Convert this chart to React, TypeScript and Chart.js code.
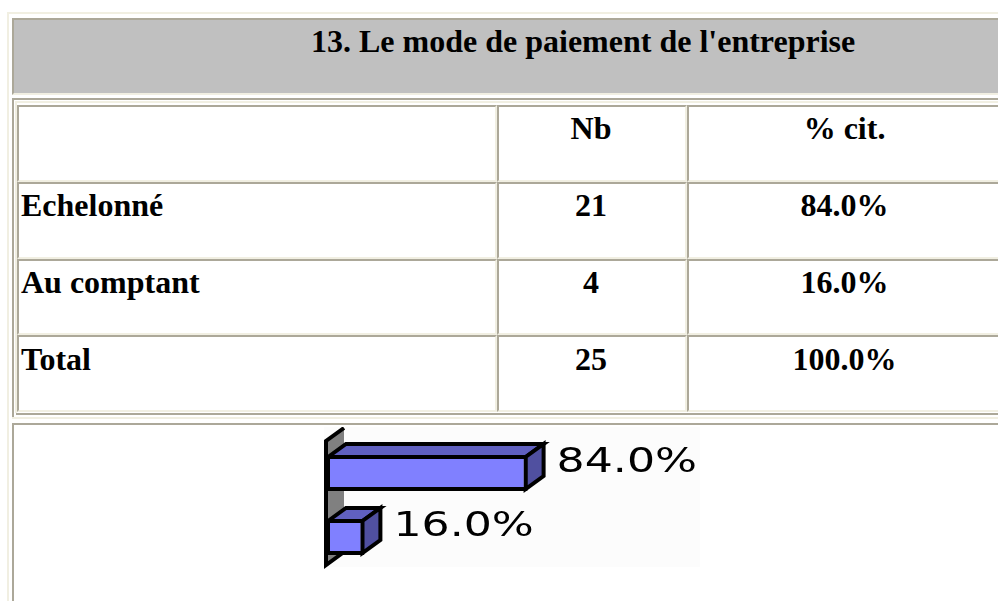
import React, { useEffect, useRef } from "react";
import { Chart, registerables } from "chart.js";

Chart.register(...registerables);

const title = "13. Le mode de paiement de l'entreprise";
const headers = ["", "Nb", "% cit."];
const categories = ["Echelonné", "Au comptant"];
const counts = [21, 4];
const percents = [84.0, 16.0];
const totalLabel = "Total";
const totalCount = 25;
const totalPercent = 100.0;

const DARK = "#aca899";
const LIGHT = "#f1efe2";
const FONT = "'Liberation Serif', 'Times New Roman', serif";

const DX = 18;
const DY = 13;

const bar3d = {
  id: "bar3d",
  beforeDraw(chart: any) {
    const ctx = chart.ctx;
    ctx.save();
    ctx.fillStyle = "#fcfcfc";
    ctx.fillRect(0, 0, 376, 140);
    ctx.restore();
  },
  beforeDatasetsDraw(chart: any) {
    const ctx = chart.ctx;
    const area = chart.chartArea;
    const W = area.left;
    const wt = area.top;
    const wb = area.bottom - 4;
    ctx.save();
    // wall
    ctx.beginPath();
    ctx.moveTo(W, wt);
    ctx.lineTo(W + DX, wt - DY);
    ctx.lineTo(W + DX, wb - DY);
    ctx.lineTo(W, wb);
    ctx.closePath();
    ctx.fillStyle = "#808080";
    ctx.fill();
    ctx.strokeStyle = "#000";
    ctx.lineWidth = 4;
    ctx.beginPath();
    ctx.moveTo(W + DX, wt - DY);
    ctx.lineTo(W, wt);
    ctx.lineTo(W, wb);
    ctx.lineTo(W + DX, wb - DY);
    ctx.stroke();
    // 3D faces of bars
    const meta = chart.getDatasetMeta(0);
    meta.data.forEach((el: any) => {
      const p = el.getProps(["x", "y", "base", "height"], true);
      const L = p.base + 2;
      const R = p.x - 2;
      const T = p.y - p.height / 2 + 2;
      const B = p.y + p.height / 2 - 2;
      ctx.lineJoin = "miter";
      ctx.lineWidth = 4;
      ctx.strokeStyle = "#000";
      ctx.beginPath();
      ctx.moveTo(L, T);
      ctx.lineTo(L + DX, T - DY);
      ctx.lineTo(R + DX, T - DY);
      ctx.lineTo(R, T);
      ctx.closePath();
      ctx.fillStyle = "#6060c0";
      ctx.fill();
      ctx.stroke();
      ctx.beginPath();
      ctx.moveTo(R, T);
      ctx.lineTo(R + DX, T - DY);
      ctx.lineTo(R + DX, B - DY);
      ctx.lineTo(R, B);
      ctx.closePath();
      ctx.fillStyle = "#5050a0";
      ctx.fill();
      ctx.stroke();
    });
    ctx.restore();
  },
  afterDatasetsDraw(chart: any) {
    const ctx = chart.ctx;
    const meta = chart.getDatasetMeta(0);
    ctx.save();
    ctx.fillStyle = "#000";
    ctx.font = "34px 'DejaVu Sans'";
    ctx.textBaseline = "alphabetic";
    ctx.textAlign = "left";
    meta.data.forEach((el: any, i: number) => {
      const p = el.getProps(["x", "y"], true);
      const txt = percents[i].toFixed(1) + "%";
      ctx.save();
      ctx.translate(p.x + DX + 11, p.y - 1);
      ctx.scale(1.3, 1);
      ctx.fillText(txt, 0, 0);
      ctx.restore();
    });
    ctx.restore();
  },
};

function BarChart() {
  const ref = useRef<HTMLCanvasElement>(null);
  useEffect(() => {
    if (!ref.current) return;
    const chart = new Chart(ref.current, {
      type: "bar",
      data: {
        labels: categories,
        datasets: [
          {
            data: percents,
            backgroundColor: "#8080ff",
            borderColor: "#000000",
            borderWidth: 4,
            borderSkipped: false,
            categoryPercentage: 1,
            barPercentage: 0.5625,
          },
        ],
      },
      options: {
        indexAxis: "y",
        responsive: false,
        animation: false,
        devicePixelRatio: 1,
        layout: { padding: { left: 2, right: 134, top: 14, bottom: 8 } },
        scales: {
          x: { display: false, min: 0, max: 100 },
          y: { display: false },
        },
        plugins: {
          legend: { display: false },
          tooltip: { enabled: false },
          title: { display: false },
        },
      },
      plugins: [bar3d],
    });
    return () => chart.destroy();
  }, []);
  return (
    <canvas
      ref={ref}
      width={376}
      height={150}
      style={{ position: "absolute", left: 324, top: 427, width: 376, height: 150 }}
    />
  );
}

function Box(props: { x: number; y: number; w: number; h: number; c: string }) {
  return (
    <div
      style={{
        position: "absolute",
        left: props.x,
        top: props.y,
        width: props.w,
        height: props.h,
        background: props.c,
      }}
    />
  );
}

const colX = [17, 497, 687];
const colW = [480, 190, 330];
const rowY = [105, 182, 259, 335];
const rowH = [77, 77, 76, 77];

export default function App() {
  const rows: string[][] = [
    headers,
    ...categories.map((c, i) => [c, String(counts[i]), percents[i].toFixed(1) + "%"]),
    [totalLabel, String(totalCount), totalPercent.toFixed(1) + "%"],
  ];
  const textStyle = (left: number, top: number, width: number | undefined, center: boolean): React.CSSProperties => ({
    position: "absolute",
    left,
    top,
    width,
    textAlign: center ? "center" : "left",
    font: `bold 32px ${FONT}`,
    lineHeight: "32px",
    color: "#000",
    whiteSpace: "nowrap",
  });
  return (
    <div
      style={{
        position: "fixed",
        left: 0,
        top: 0,
        width: 998,
        height: 601,
        overflow: "hidden",
        background: "#fff",
      }}
    >
      {/* outer light frame */}
      <Box x={7} y={12} w={2} h={589} c={LIGHT} />
      <Box x={7} y={12} w={991} h={2} c={LIGHT} />
      {/* header */}
      <div
        style={{
          position: "absolute",
          left: 12,
          top: 18,
          width: 1000,
          height: 77,
          boxSizing: "border-box",
          background: "#c0c0c0",
          borderTop: `2px solid ${DARK}`,
          borderLeft: `2px solid ${DARK}`,
          borderBottom: `2px solid ${LIGHT}`,
        }}
      />
      <div style={textStyle(311, 25, undefined, false)}>{title}</div>
      {/* table frame */}
      <Box x={12} y={98} w={986} h={2} c={DARK} />
      <Box x={12} y={98} w={2} h={320} c={DARK} />
      <Box x={15} y={101} w={983} h={2} c={LIGHT} />
      <Box x={15} y={101} w={2} h={312} c={LIGHT} />
      <Box x={16} y={413} w={982} h={2} c={DARK} />
      <Box x={12} y={417} w={986} h={2} c={LIGHT} />
      {/* cells */}
      {rows.map((r, ri) =>
        r.map((_, ci) => (
          <div
            key={`c${ri}-${ci}`}
            style={{
              position: "absolute",
              left: colX[ci],
              top: rowY[ri],
              width: colW[ci],
              height: rowH[ri],
              boxSizing: "border-box",
              borderTop: `2px solid ${DARK}`,
              borderLeft: `2px solid ${DARK}`,
              borderBottom: `2px solid ${LIGHT}`,
              borderRight: `2px solid ${LIGHT}`,
            }}
          />
        ))
      )}
      {rows.map((r, ri) => {
        const top = [112, 189, 266, 343][ri];
        return (
          <React.Fragment key={`t${ri}`}>
            <div style={textStyle(21, top, undefined, false)}>{r[0]}</div>
            <div style={textStyle(497, top, 188, true)}>{r[1]}</div>
            <div style={textStyle(689, top, 311, true)}>{r[2]}</div>
          </React.Fragment>
        );
      })}
      {/* chart cell */}
      <Box x={12} y={423} w={986} h={2} c={DARK} />
      <Box x={12} y={423} w={2} h={178} c={DARK} />
      <BarChart />
    </div>
  );
}
